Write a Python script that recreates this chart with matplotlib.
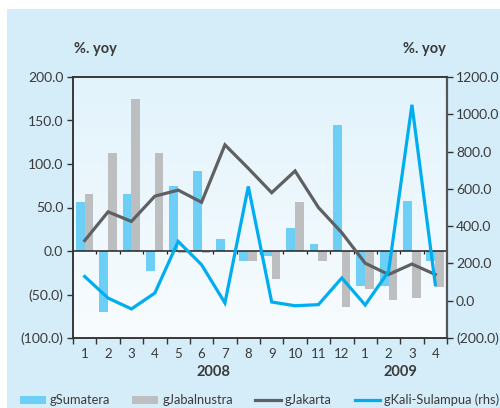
import matplotlib
matplotlib.use("Agg")
import matplotlib.pyplot as plt
import numpy as np
from matplotlib.patches import Rectangle, Patch
from matplotlib.lines import Line2D
from matplotlib.ticker import FuncFormatter, FixedLocator
from matplotlib.colors import LinearSegmentedColormap

plt.rcParams['font.family'] = ['Lato', 'DejaVu Sans']

# monthly data, Jan 2008 - Apr 2009
months = ['1', '2', '3', '4', '5', '6', '7', '8', '9', '10', '11', '12',
          '1', '2', '3', '4']
years = ['2008', '2009']
year_pos = [5.5, 13.5]
sumatera = [56, -70, 65, -23, 75, 92, 14, -11, -6, 27, 8, 145, -40, -40, 58, -12]
jabalnustra = [65, 113, 175, 113, -2, -2, 0, -12, -32, 56, -11, -64, -44, -56, -54, -41]
jakarta = [12, 45, 34, 63, 70, 56, 122, 95, 67, 92, 50, 21, -14, -27, -15, -27]
kali = [130, 14, -44, 41, 318, 193, -12, 613, -7, -27, -21, 122, -23, 157, 1051, 86]

c_sum = '#6dcff6'
c_jab = '#bcbec0'
c_jak = '#5f6062'
c_kal = '#00aeef'
c_text = '#3a3a3a'

fig = plt.figure(figsize=(5, 4.08), dpi=100)
fig.patch.set_facecolor('white')
fig.patches.append(Rectangle((7 / 500, 0), 1, 1 - 9 / 408, transform=fig.transFigure,
                             facecolor='#d5ecf9', edgecolor='none', zorder=-10))

ax = fig.add_axes([73 / 500, 70 / 408, 374 / 500, 261 / 408])
x = np.arange(len(months))

# background gradient of the plot area
grad = np.linspace(0, 1, 100).reshape(-1, 1)
cmap = LinearSegmentedColormap.from_list('bg', ['#f8fcfe', '#e2f3fc'])
ax.imshow(grad, extent=[0, 1, 0, 1], transform=ax.transAxes, cmap=cmap,
          aspect='auto', origin='lower', zorder=0)

ax.bar(x - 0.38, sumatera, width=0.38, align='edge', color=c_sum, zorder=2)
ax.bar(x, jabalnustra, width=0.37, align='edge', color=c_jab, zorder=2)
ax.plot(x, jakarta, color=c_jak, lw=2.3, zorder=4, solid_joinstyle='miter')
ax.axhline(0, color='#222222', lw=1.1, zorder=3)
bounds = np.arange(len(months) + 1) - 0.5
ax.vlines(bounds[1:-1], -3, 0, color='#222222', lw=0.9, zorder=3)

ax.set_xlim(-0.5, len(months) - 0.5)
ax.set_ylim(-100, 200)
ax.set_yticks(np.arange(-100, 201, 50))


def fmt(v, pos):
    return '({:.1f})'.format(-v) if v < 0 else '{:.1f}'.format(v)


ax.yaxis.set_major_formatter(FuncFormatter(fmt))
ax.set_xticks(x)
ax.set_xticklabels(months)
ax.xaxis.set_minor_locator(FixedLocator(bounds))
ax.tick_params(axis='x', which='major', length=0, pad=7, labelsize=9.5, labelcolor=c_text)
ax.tick_params(axis='x', which='minor', length=4, width=1, color='#333333', direction='out')
ax.tick_params(axis='y', length=4, width=1, color='#333333', pad=3, labelsize=10,
               labelcolor=c_text)

ax2 = ax.twinx()
ax2.plot(x, kali, color=c_kal, lw=2.3, zorder=5, solid_joinstyle='miter')
ax2.set_ylim(-200, 1200)
ax2.set_yticks(np.arange(-200, 1201, 200))
ax2.yaxis.set_major_formatter(FuncFormatter(fmt))
ax2.tick_params(axis='y', length=4, width=1, color='#333333', pad=2.5, labelsize=10,
                labelcolor=c_text)

for a in (ax, ax2):
    for s in a.spines.values():
        s.set_color('#333333')
        s.set_linewidth(1.1)
ax2.spines['right'].set_color('#555555')
ax2.spines['right'].set_linewidth(1.6)

for yr, p in zip(years, year_pos):
    ax.text(p, -0.13, yr, transform=ax.get_xaxis_transform(), ha='center',
            va='center', fontsize=10.5, fontweight='bold', color=c_text)

fig.text(74 / 500, 1 - 49 / 408, '%. yoy', ha='left', va='center', fontsize=10.5,
         fontweight='bold', color=c_text)
fig.text(446 / 500, 1 - 49 / 408, '%. yoy', ha='right', va='center', fontsize=10.5,
         fontweight='bold', color=c_text)

handles = [Patch(facecolor=c_sum, edgecolor='none'),
           Patch(facecolor=c_jab, edgecolor='none'),
           Line2D([], [], color=c_jak, lw=2.3),
           Line2D([], [], color=c_kal, lw=2.3)]
labels = ['gSumatera', 'gJabalnustra', 'gJakarta', 'gKali-Sulampua (rhs)']
fig.legend(handles, labels, loc='center left', bbox_to_anchor=(12 / 500, 1 - 400 / 408),
           ncol=4, frameon=False, fontsize=9.3, handlelength=2.0, handleheight=0.6,
           handletextpad=0.3, columnspacing=1.75, labelcolor=c_text,
           borderaxespad=0.2)

fig.savefig('out.png', dpi=100, facecolor=fig.get_facecolor())
